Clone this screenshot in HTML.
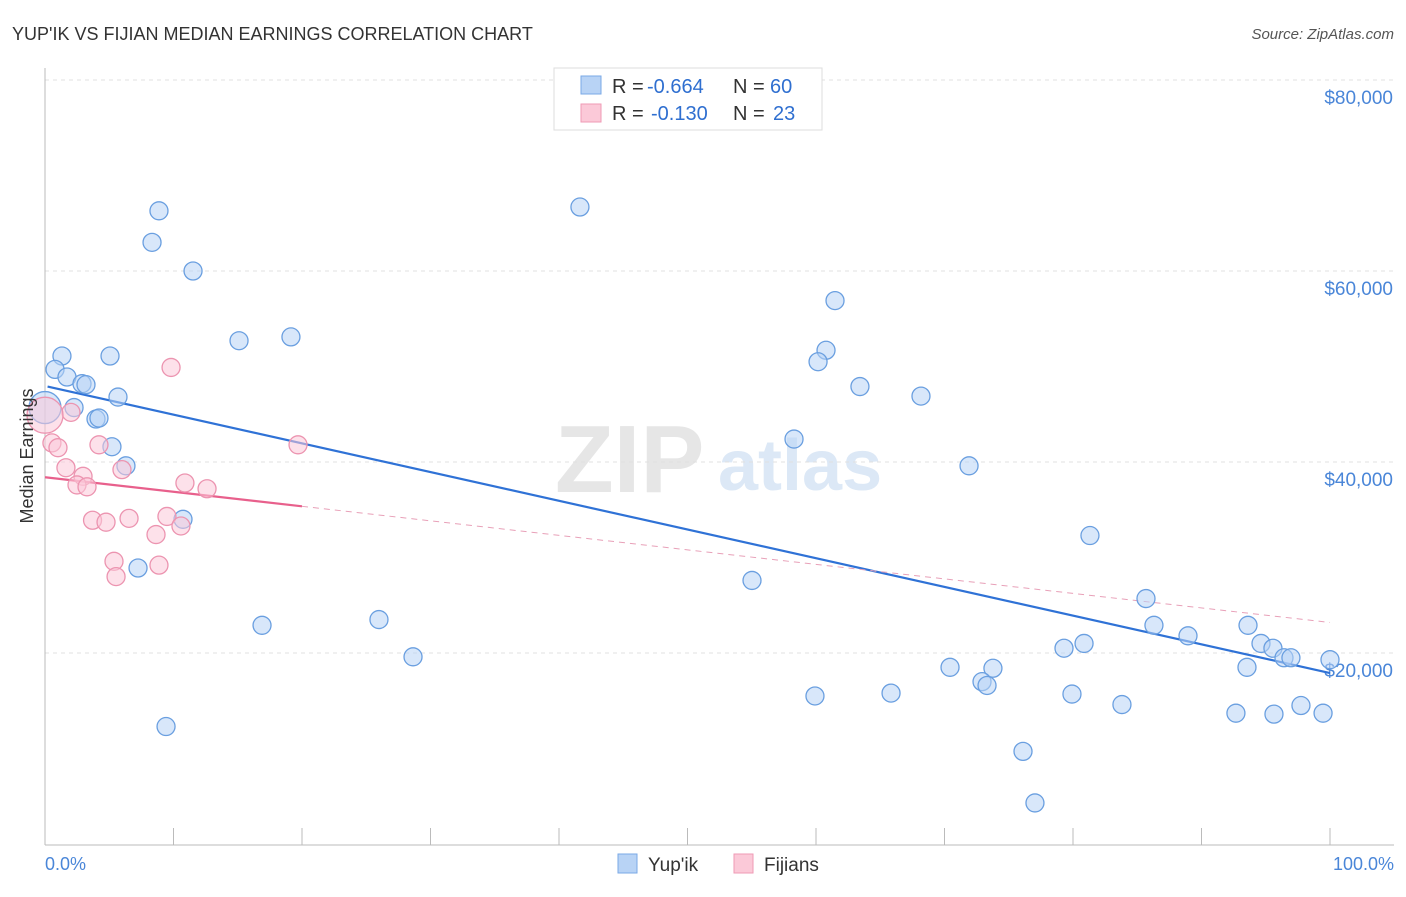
<!DOCTYPE html>
<html><head><meta charset="utf-8"><style>
body{margin:0;background:#fff;font-family:"Liberation Sans",sans-serif;}
svg text{font-family:"Liberation Sans",sans-serif;}
</style></head><body>
<svg id="c" width="1406" height="892" viewBox="0 0 1406 892" xmlns="http://www.w3.org/2000/svg">
<text x="12" y="40" font-size="18" fill="#333">YUP'IK VS FIJIAN MEDIAN EARNINGS CORRELATION CHART</text>
<text x="1394" y="39" font-size="15" fill="#555" text-anchor="end" font-style="italic">Source: ZipAtlas.com</text>
<text x="555" y="492" font-size="96" fill="#e6e6e6" font-family="Liberation Serif" font-weight="bold">ZIP</text>
<text x="718" y="490" font-size="72" fill="#dce8f6" font-weight="bold">atlas</text>
<g id="grid"></g>
<g id="axes"></g>
<g id="lines"></g>
<g id="pts"></g>
<text transform="translate(33,456) rotate(-90)" font-size="18" fill="#333" text-anchor="middle">Median Earnings</text>
<text x="45" y="870" font-size="18" fill="#4a86d8">0.0%</text>
<text x="1394" y="870" font-size="18" fill="#4a86d8" text-anchor="end">100.0%</text>
<g>
<rect x="554" y="68" width="268" height="62" fill="#fff" stroke="#ddd"/>
<rect x="581" y="76" width="20" height="18" fill="#b8d3f5" stroke="#7aa8e6"/>
<rect x="581" y="104" width="20" height="18" fill="#fbc9d8" stroke="#ef9ab5"/>
<text x="612" y="93" font-size="20" fill="#333">R =</text>
<text x="647" y="93" font-size="20" fill="#2f6fd0">-0.664</text>
<text x="733" y="93" font-size="20" fill="#333">N =</text>
<text x="770" y="93" font-size="20" fill="#2f6fd0">60</text>
<text x="612" y="120" font-size="20" fill="#333">R =</text>
<text x="651" y="120" font-size="20" fill="#2f6fd0">-0.130</text>
<text x="733" y="120" font-size="20" fill="#333">N =</text>
<text x="773" y="120" font-size="20" fill="#2f6fd0">23</text>
</g>
<g>
<rect x="618" y="854" width="19" height="19" fill="#b8d3f5" stroke="#7aa8e6"/>
<text x="648" y="871" font-size="19" fill="#333">Yup'ik</text>
<rect x="734" y="854" width="19" height="19" fill="#fbc9d8" stroke="#ef9ab5"/>
<text x="764" y="871" font-size="19" fill="#333">Fijians</text>
</g>
</svg>
<script>
const yTicks=[20000,40000,60000,80000];
const yTickLabels=["$20,000","$40,000","$60,000","$80,000"];
const xTicks=[0,10,20,30,40,50,60,70,80,90,100];
const blueX=[8.87,8.33,11.52,41.63,15.10,19.14,1.32,5.06,0.78,1.71,2.88,3.19,5.68,2.26,3.97,4.20,5.21,6.30,10.74,7.24,16.89,25.99,28.64,9.42,61.48,60.78,60.16,63.42,68.17,58.29,71.91,55.02,81.32,85.68,86.30,88.95,93.62,94.63,95.56,96.42,96.96,100,79.30,80.86,70.43,73.77,72.92,73.31,59.92,65.84,79.92,83.81,93.54,92.68,95.64,97.74,99.46,76.11,77.04,0];
const blueY=[66.3,63.0,60.0,66.7,52.7,53.1,51.1,51.1,49.7,48.9,48.2,48.1,46.8,45.7,44.5,44.6,41.6,39.6,34.0,28.9,22.9,23.5,19.6,12.3,56.9,51.7,50.5,47.9,46.9,42.4,39.6,27.6,32.3,25.7,22.9,21.8,22.9,21.0,20.5,19.5,19.5,19.3,20.5,21.0,18.5,18.4,17.0,16.6,15.5,15.8,15.7,14.6,18.5,13.7,13.6,14.5,13.7,9.7,4.3,45.7];
const pinkX=[9.81,2.02,0,19.69,0.54,1.01,4.20,1.63,2.96,5.99,2.49,3.27,10.89,12.61,3.70,4.75,6.54,9.49,10.58,8.64,5.37,8.87,5.53];
const pinkY=[49.9,45.2,44.9,41.8,42.0,41.5,41.8,39.4,38.5,39.2,37.6,37.4,37.8,37.2,33.9,33.7,34.1,34.3,33.3,32.4,29.6,29.2,28.0];
const blueTrend=[47.9,17.9];
const pinkTrend=[38.4,23.2];
const pinkSolidEnd=20;
const NS="http://www.w3.org/2000/svg";
const X=p=>45+p*12.85;
const Y=k=>653-(k*1000-20000)*191/20000;
function mk(tag,attrs,parent){const e=document.createElementNS(NS,tag);for(const k in attrs)e.setAttribute(k,attrs[k]);document.getElementById(parent).appendChild(e);return e;}
yTicks.forEach((v,i)=>{
 const g=mk('line',{x1:45,x2:1394,y1:Y(v/1000),y2:Y(v/1000),stroke:'#e0e0e0','stroke-dasharray':'4,4'},'grid');
 
 
 const t=mk('text',{x:1393,y:Y(v/1000)+24,'font-size':19,fill:'#4a86d8','text-anchor':'end'},'axes');
 t.textContent=yTickLabels[i];
 
 
});
const ax=mk('line',{x1:45,x2:1394,y1:845,y2:845,stroke:'#bbb'},'axes');


const ay=mk('line',{x1:45,x2:45,y1:68,y2:845,stroke:'#bbb'},'axes');


xTicks.forEach(p=>{
 const t=mk('line',{x1:X(p),x2:X(p),y1:828,y2:845,stroke:'#bbb'},'axes');
 
 
});
function dot(x,y,fill,stroke,r){
 return mk('circle',{cx:X(x),cy:Y(y),r:r,fill:fill,'fill-opacity':0.55,stroke:stroke,'stroke-width':1.3},'pts');
}
blueX.forEach((x,i)=>{
 const c=dot(x,blueY[i],'#b8d3f5','#6a9fe0',i===blueX.length-1?16:9);
 
 
});
pinkX.forEach((x,i)=>{
 const c=dot(x,pinkY[i],'#fbc9d8','#ec94b0',i===2?18:9);
 
 
});
const bl=mk('line',{x1:X(0.2),y1:Y(blueTrend[0]),x2:X(100),y2:Y(blueTrend[1]),stroke:'#2f72d6','stroke-width':2.2},'lines');


const pm=pinkTrend[0]+(pinkTrend[1]-pinkTrend[0])*pinkSolidEnd/100;
const pl=mk('line',{x1:X(0),y1:Y(pinkTrend[0]),x2:X(pinkSolidEnd),y2:Y(pm),stroke:'#e8608c','stroke-width':2.2},'lines');


const pd=mk('line',{x1:X(pinkSolidEnd),y1:Y(pm),x2:X(100),y2:Y(pinkTrend[1]),stroke:'#e8a0b8','stroke-width':1,'stroke-dasharray':'6,5'},'lines');


</script>
</body></html>
